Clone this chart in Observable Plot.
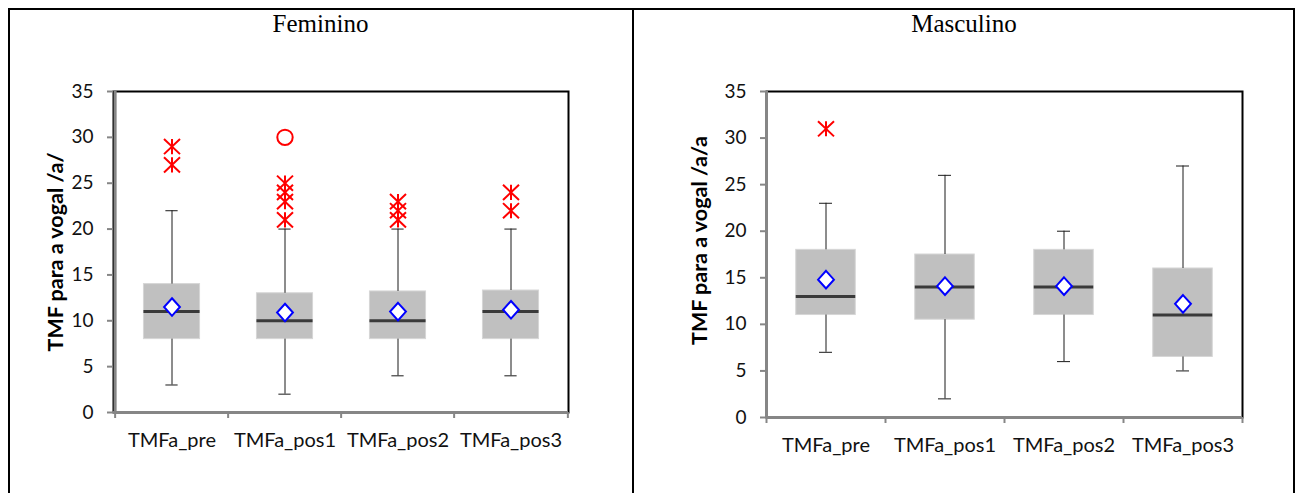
<!DOCTYPE html>
<html>
<head>
<meta charset="utf-8">
<script src="https://cdn.jsdelivr.net/npm/d3@7"></script>
<script src="https://cdn.jsdelivr.net/npm/@observablehq/plot@0.6"></script>
<style>
html, body { margin: 0; padding: 0; background: #fff; }
#root { position: relative; width: 1300px; height: 493px; overflow: hidden; background: #fff; }
.line { position: absolute; background: #000; z-index: 5; }
.title { position: absolute; top: 9px; height: 30px; line-height: 30px; font-family: "Liberation Serif", "Times New Roman", serif; font-size: 25px; text-align: center; color: #000; }
.panel { position: absolute; top: 0; }
.panel svg { overflow: visible; }
</style>
</head>
<body>
<div id="root">
  <div class="title" style="left:8px;width:625px;">Feminino</div>
  <div class="title" style="left:633px;width:662px;">Masculino</div>
  <div class="panel" id="fem" style="left:0px;"></div>
  <div class="panel" id="masc" style="left:633px;"></div>
  <div class="line" style="left:8px;top:8px;width:1287px;height:2px;"></div>
  <div class="line" style="left:8px;top:8px;width:2px;height:485px;"></div>
  <div class="line" style="left:632px;top:8px;width:2px;height:485px;"></div>
  <div class="line" style="left:1293px;top:8px;width:2px;height:485px;"></div>
</div>
<script>
// ---------- data ----------
const categories = ["TMFa_pre", "TMFa_pos1", "TMFa_pos2", "TMFa_pos3"];
const yTicks = [0, 5, 10, 15, 20, 25, 30, 35];

// Feminino
const femLow    = [3, 2, 4, 4];
const femQ1     = [8, 8, 8, 8];
const femMedian = [11, 10, 10, 11];
const femQ3     = [14, 13, 13.2, 13.3];
const femHigh   = [22, 20, 20, 20];
const femMean   = [11.5, 10.9, 11.0, 11.2];
const femOutlierCat   = ["TMFa_pre", "TMFa_pre", "TMFa_pos1", "TMFa_pos1", "TMFa_pos1", "TMFa_pos1", "TMFa_pos2", "TMFa_pos2", "TMFa_pos2", "TMFa_pos3", "TMFa_pos3"];
const femOutlierValue = [27, 29, 21, 23, 24, 25, 21, 22, 23, 22, 24];
const femExtremeCat   = ["TMFa_pos1"];
const femExtremeValue = [30];

// Masculino
const mascLow    = [7, 2, 6, 5];
const mascQ1     = [11, 10.5, 11, 6.5];
const mascMedian = [13, 14, 14, 11];
const mascQ3     = [18, 17.5, 18, 16];
const mascHigh   = [23, 26, 20, 27];
const mascMean   = [14.8, 14.1, 14.1, 12.2];
const mascOutlierCat   = ["TMFa_pre"];
const mascOutlierValue = [31];
const mascExtremeCat   = [];
const mascExtremeValue = [];

// ---------- symbols ----------
const star = {
  draw(ctx, size) {
    const r = Math.sqrt(size / Math.PI);
    const w = r, h = r * 0.95;
    ctx.moveTo(0, -h); ctx.lineTo(0, h);
    ctx.moveTo(-w, -h); ctx.lineTo(w, h);
    ctx.moveTo(-w, h); ctx.lineTo(w, -h);
  }
};
const diamond = {
  draw(ctx, size) {
    const r = Math.sqrt(size / Math.PI);
    ctx.moveTo(0, -r); ctx.lineTo(r * 0.9, 0); ctx.lineTo(0, r); ctx.lineTo(-r * 0.9, 0); ctx.closePath();
  }
};

const axisGray = "#868686";

function panel(o) {
  const boxes = categories.map((c, i) => ({
    cat: c, low: o.low[i], q1: o.q1[i], median: o.median[i], q3: o.q3[i], high: o.high[i], mean: o.mean[i]
  }));
  const outs = o.outCat.map((c, i) => ({cat: c, value: o.outVal[i]}));
  const exts = o.extCat.map((c, i) => ({cat: c, value: o.extVal[i]}));
  const band = (o.width - o.marginLeft - o.marginRight) / categories.length;
  const half = band / 2;
  const capInset = (band - 13) / 2;
  return Plot.plot({
    width: o.width,
    height: 493,
    marginLeft: o.marginLeft,
    marginRight: o.marginRight,
    marginTop: 91,
    marginBottom: o.marginBottom,
    style: {fontFamily: "Lato, 'Open Sans', sans-serif", fontSize: "18px", color: "#111", background: "transparent", overflow: "visible"},
    x: {type: "band", domain: categories, padding: 0, axis: null},
    y: {domain: [0, 35], axis: null},
    marks: [
      Plot.frame({stroke: "#000", strokeWidth: 2}),
      Plot.barY(boxes, {x: "cat", y1: "q1", y2: "q3", fill: "#c0c0c0", stroke: "#d6d6d6", strokeWidth: 1, insetLeft: band / 4, insetRight: band / 4}),
      Plot.ruleX(boxes, {x: "cat", y1: "low", y2: "q1", stroke: "#1a1a1a", strokeWidth: 1}),
      Plot.ruleX(boxes, {x: "cat", y1: "q3", y2: "high", stroke: "#1a1a1a", strokeWidth: 1}),
      Plot.tickY(boxes, {x: "cat", y: "low", stroke: "#1a1a1a", strokeWidth: 1, insetLeft: capInset, insetRight: capInset}),
      Plot.tickY(boxes, {x: "cat", y: "high", stroke: "#1a1a1a", strokeWidth: 1, insetLeft: capInset, insetRight: capInset}),
      Plot.tickY(boxes, {x: "cat", y: "median", stroke: "#3a3a3a", strokeWidth: 3, insetLeft: band / 4, insetRight: band / 4}),
      Plot.dot(boxes, {x: "cat", y: "mean", symbol: diamond, r: 8.8, fill: "white", stroke: "#0000ff", strokeWidth: 2}),
      Plot.dot(outs, {x: "cat", y: "value", symbol: star, r: 8, fill: "none", stroke: "#ff0000", strokeWidth: 2}),
      Plot.dot(exts, {x: "cat", y: "value", r: 7.7, fill: "none", stroke: "#ff0000", strokeWidth: 2}),
      Plot.ruleY([0], {stroke: axisGray, strokeWidth: 3}),
      Plot.ruleX([categories[0]], {dx: -half, stroke: axisGray, strokeWidth: 3}),
      Plot.axisY(yTicks, {tickSize: 6, tickPadding: 14, stroke: axisGray, strokeWidth: 2, label: null, fontSize: 19}),
      Plot.axisX({tickSize: 6, tickFormat: () => "", dx: -half, stroke: axisGray, strokeWidth: 2, label: null}),
      Plot.axisX([categories[categories.length - 1]], {tickSize: 6, tickFormat: () => "", dx: half, stroke: axisGray, strokeWidth: 2, label: null}),
      Plot.axisX({tickSize: 0, tickPadding: 20, label: null, fontSize: 20}),
      Plot.text([o.ylabel], {text: d => d, frameAnchor: "left", textAnchor: "middle", rotate: -90, dx: -o.labelDx, dy: o.labelDy, fontWeight: "bold", fontSize: 21.5, fill: "#000"})
    ]
  });
}

document.getElementById("fem").appendChild(panel({
  low: femLow, q1: femQ1, median: femMedian, q3: femQ3, high: femHigh, mean: femMean,
  outCat: femOutlierCat, outVal: femOutlierValue, extCat: femExtremeCat, extVal: femExtremeValue,
  ylabel: "TMF para a vogal /a/", width: 633, marginLeft: 113, marginRight: 65, marginBottom: 81,
  labelDx: 57, labelDy: 0
}));

document.getElementById("masc").appendChild(panel({
  low: mascLow, q1: mascQ1, median: mascMedian, q3: mascQ3, high: mascHigh, mean: mascMean,
  outCat: mascOutlierCat, outVal: mascOutlierValue, extCat: mascExtremeCat, extVal: mascExtremeValue,
  ylabel: "TMF para a vogal /a/a", width: 667, marginLeft: 133, marginRight: 58, marginBottom: 76,
  labelDx: 66, labelDy: -14
}));
</script>
</body>
</html>
